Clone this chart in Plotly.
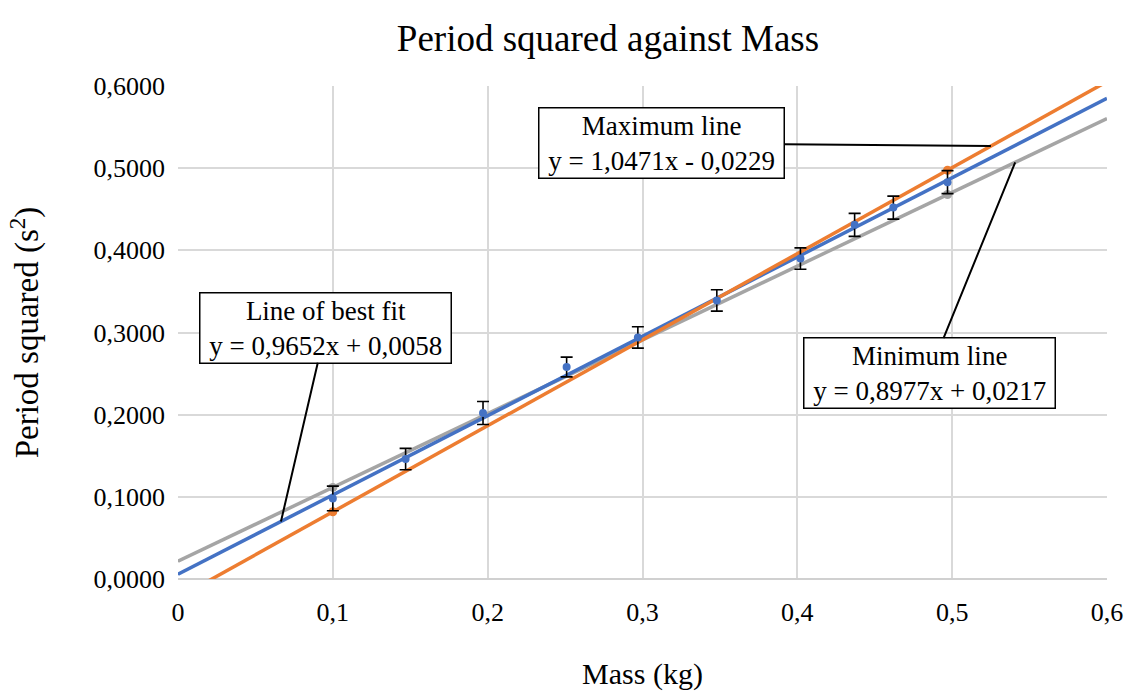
import plotly.graph_objects as go

# Data
mass = [0.100, 0.147, 0.197, 0.251, 0.297, 0.348, 0.402, 0.437, 0.462, 0.497]
period_sq = [0.098, 0.146, 0.202, 0.258, 0.294, 0.339, 0.390, 0.431, 0.452, 0.483]
err = [0.015, 0.013, 0.014, 0.012, 0.013, 0.013, 0.013, 0.014, 0.014, 0.014]

max_x = [0.100, 0.497]
max_y = [0.0818, 0.4975]
min_x = [0.100, 0.497]
min_y = [0.1115, 0.4679]

line_x = [0.0, 0.6]
best_slope, best_int = 0.9652, 0.0058
max_slope, max_int = 1.0471, -0.0229
min_slope, min_int = 0.8977, 0.0217

x_ticks = [0, 0.1, 0.2, 0.3, 0.4, 0.5, 0.6]
x_ticktext = ["0", "0,1", "0,2", "0,3", "0,4", "0,5", "0,6"]
y_ticks = [0, 0.1, 0.2, 0.3, 0.4, 0.5, 0.6]
y_ticktext = ["0,0000", "0,1000", "0,2000", "0,3000", "0,4000", "0,5000", "0,6000"]

BLUE = "#4472C4"
ORANGE = "#ED7D31"
GRAY = "#A5A5A5"
FONT = "Liberation Serif"

fig = go.Figure()

fig.add_trace(go.Scatter(x=line_x, y=[min_slope * v + min_int for v in line_x],
                         mode="lines", line=dict(color=GRAY, width=3.5), showlegend=False))
fig.add_trace(go.Scatter(x=line_x, y=[best_slope * v + best_int for v in line_x],
                         mode="lines", line=dict(color=BLUE, width=3.5), showlegend=False))
fig.add_trace(go.Scatter(x=line_x, y=[max_slope * v + max_int for v in line_x],
                         mode="lines", line=dict(color=ORANGE, width=3.5), showlegend=False))

fig.add_trace(go.Scatter(x=min_x, y=min_y, mode="markers",
                         marker=dict(color=GRAY, size=9), showlegend=False))
fig.add_trace(go.Scatter(x=max_x, y=max_y, mode="markers",
                         marker=dict(color=ORANGE, size=9), showlegend=False))
fig.add_trace(go.Scatter(x=mass, y=period_sq, mode="markers",
                         marker=dict(color=BLUE, size=8),
                         error_y=dict(type="data", array=err, visible=True,
                                      color="black", thickness=1.6, width=6),
                         showlegend=False))

def ann(xv, yv, text, ax, ay):
    fig.add_annotation(x=xv, y=yv, xref="x", yref="y", text=text,
                       showarrow=True, arrowhead=0, arrowwidth=2, arrowcolor="black",
                       ax=ax, ay=ay, font=dict(family=FONT, size=27, color="black"),
                       bgcolor="white", bordercolor="black", borderwidth=1.5,
                       borderpad=2, align="center")

NB = "&nbsp;"
xb = 0.0665
ann(xb, best_slope * xb + best_int, "Line of best fit<br>" + NB + "y = 0,9652x + 0,0058" + NB, 45, -194)
xm = 0.525
ann(xm, max_slope * xm + max_int, "Maximum line<br>" + NB + "y = 1,0471x - 0,0229" + NB, -329, -3)
xn = 0.5407
ann(xn, min_slope * xn + min_int, "Minimum line<br>" + NB + "y = 0,8977x + 0,0217" + NB, -86, 211)

fig.update_layout(
    width=1128, height=691,
    margin=dict(l=178, r=21, t=86, b=112),
    paper_bgcolor="white", plot_bgcolor="white",
    font=dict(family=FONT, color="black"),
    title=dict(text="Period squared against Mass", x=0.539, xanchor="center",
               y=0.945, yanchor="middle", font=dict(family=FONT, size=37, color="black")),
    xaxis=dict(range=[0, 0.6], tickvals=x_ticks, ticktext=x_ticktext,
               showgrid=True, gridcolor="#D9D9D9", gridwidth=1.5,
               zeroline=False, showline=False, automargin=False,
               tickfont=dict(family=FONT, size=26, color="black"),
               ticklabelstandoff=15,
               title=dict(text="Mass (kg)", font=dict(family=FONT, size=30, color="black"),
                          standoff=42)),
    yaxis=dict(range=[0, 0.6], tickvals=y_ticks, ticktext=y_ticktext,
               showgrid=True, gridcolor="#D9D9D9", gridwidth=1.5,
               zeroline=True, zerolinecolor="#D0D0D0", zerolinewidth=2,
               showline=False, automargin=False,
               tickfont=dict(family=FONT, size=26, color="black"),
               ticklabelstandoff=12,
               title=dict(text="Period squared (s<sup>2</sup>)",
                          font=dict(family=FONT, size=33, color="black"),
                          standoff=44)),
)

fig.write_html("out.html",
               config={"displayModeBar": False},
               post_script="document.body.style.margin='0';document.body.style.overflow='hidden';")
